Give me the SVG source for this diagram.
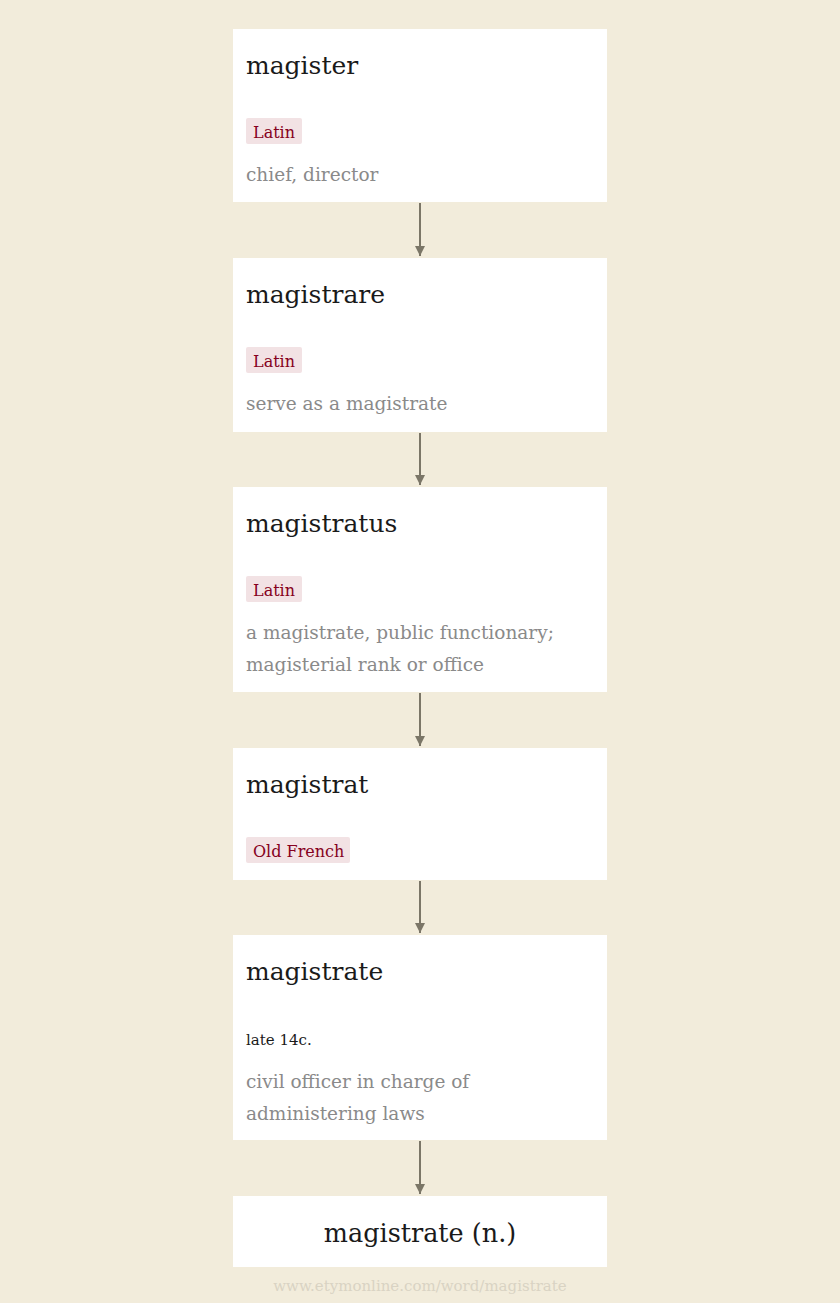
<svg xmlns="http://www.w3.org/2000/svg" width="840" height="1303" viewBox="0 0 840 1303">
<defs>
<marker id="ah" viewBox="0 0 10 10" refX="10" refY="5" markerWidth="10" markerHeight="10" markerUnits="userSpaceOnUse" orient="auto">
<path d="M0,0 L10,5 L0,10 z" fill="#7b7667"/>
</marker>
<style>
.box{fill:#ffffff}
.title{font-family:"DejaVu Serif","Liberation Serif",serif;font-size:25px;fill:#1a1a1a}
.tag{fill:#f2e2e4}
.tagt{font-family:"DejaVu Serif","Liberation Serif",serif;font-size:16px;fill:#860020}
.def{font-family:"DejaVu Serif","Liberation Serif",serif;font-size:18.5px;fill:#8a8a8a}
.date{font-family:"DejaVu Serif","Liberation Serif",serif;font-size:15px;fill:#1a1a1a}
.edge{stroke:#7b7667;stroke-width:2;fill:none}
.foot{font-family:"DejaVu Serif","Liberation Serif",serif;font-size:15px;fill:#d9d3c3}
</style>
</defs>
<rect width="840" height="1303" fill="#f2ecdb"/>
<g id="connectors">
<line class="edge" x1="420" y1="203" x2="420" y2="256" marker-end="url(#ah)"/>
<line class="edge" x1="420" y1="433" x2="420" y2="485" marker-end="url(#ah)"/>
<line class="edge" x1="420" y1="693" x2="420" y2="746" marker-end="url(#ah)"/>
<line class="edge" x1="420" y1="881" x2="420" y2="933" marker-end="url(#ah)"/>
<line class="edge" x1="420" y1="1141" x2="420" y2="1194" marker-end="url(#ah)"/>
</g>
<g id="n1">
<rect class="box" x="233" y="29" width="374" height="173"/>
<text class="title" x="246" y="74">magister</text>
<rect class="tag" x="246" y="118" width="56" height="26" rx="2"/>
<text class="tagt" x="253" y="138">Latin</text>
<text class="def" x="246" y="181">chief, director</text>
</g>
<g id="n2">
<rect class="box" x="233" y="258" width="374" height="174"/>
<text class="title" x="246" y="303">magistrare</text>
<rect class="tag" x="246" y="347" width="56" height="26" rx="2"/>
<text class="tagt" x="253" y="367">Latin</text>
<text class="def" x="246" y="410">serve as a magistrate</text>
</g>
<g id="n3">
<rect class="box" x="233" y="487" width="374" height="205"/>
<text class="title" x="246" y="532">magistratus</text>
<rect class="tag" x="246" y="576" width="56" height="26" rx="2"/>
<text class="tagt" x="253" y="596">Latin</text>
<text class="def" x="246" y="639">a magistrate, public functionary;</text>
<text class="def" x="246" y="671">magisterial rank or office</text>
</g>
<g id="n4">
<rect class="box" x="233" y="748" width="374" height="132"/>
<text class="title" x="246" y="793">magistrat</text>
<rect class="tag" x="246" y="837" width="104" height="26" rx="2"/>
<text class="tagt" x="253" y="857">Old French</text>
</g>
<g id="n5">
<rect class="box" x="233" y="935" width="374" height="205"/>
<text class="title" x="246" y="980">magistrate</text>
<text class="date" x="246" y="1045">late 14c.</text>
<text class="def" x="246" y="1088">civil officer in charge of</text>
<text class="def" x="246" y="1120">administering laws</text>
</g>
<g id="n6">
<rect class="box" x="233" y="1196" width="374" height="71"/>
<text class="title" x="420" y="1242" text-anchor="middle" style="font-size:25.5px">magistrate (n.)</text>
</g>
<text class="foot" x="420" y="1291" text-anchor="middle">www.etymonline.com/word/magistrate</text>
</svg>
